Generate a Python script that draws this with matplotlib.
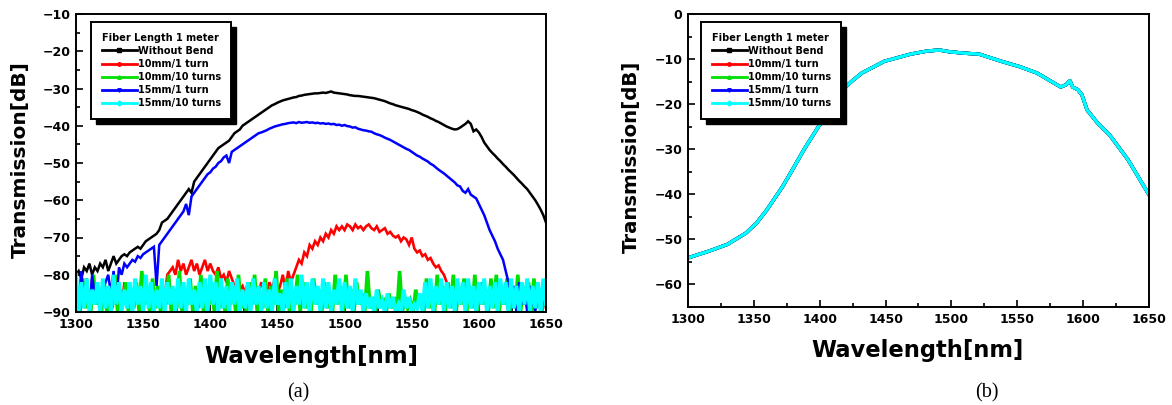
import numpy as np
import matplotlib
matplotlib.use("Agg")
import matplotlib.pyplot as plt
from matplotlib.lines import Line2D
from matplotlib.patches import Rectangle

# ---------------- data (a): bent fiber, 2 nm sampling ----------------
wl_a = np.arange(1300, 1651, 2)          # 176 wavelengths
wl_a_green = np.arange(1301, 1650, 2)    # 175 wavelengths

without_bend_a = [
    -80, -79, -81, -78, -79, -77, -80, -78, -79, -77,
    -78, -76, -79, -77, -75, -77, -76, -75, -74.5, -75,
    -74, -73.5, -73, -72.5, -73, -72, -71, -70.5, -70, -69.5,
    -69, -68, -66, -65.5, -65, -64, -63, -62, -61, -60,
    -59, -58, -57, -58, -55, -54, -53, -52, -51, -50,
    -49, -48, -47, -46, -45.5, -45, -44.5, -44, -43, -42,
    -41.5, -41, -40, -39.5, -39, -38.5, -38, -37.5, -37, -36.5,
    -36, -35.5, -35, -34.5, -34.2, -33.8, -33.5, -33.2, -33, -32.8,
    -32.6, -32.4, -32.3, -32, -31.9, -31.7, -31.6, -31.5, -31.4, -31.3,
    -31.3, -31.2, -31.1, -31.2, -31, -30.8, -31.1, -31.2, -31.3, -31.4,
    -31.5, -31.6, -31.8, -31.9, -32, -32, -32.1, -32.2, -32.3, -32.4,
    -32.5, -32.6, -32.8, -33, -33.2, -33.4, -33.7, -34, -34.2, -34.5,
    -34.7, -34.9, -35.1, -35.3, -35.5, -35.8, -36, -36.3, -36.6, -37,
    -37.3, -37.6, -38, -38.3, -38.7, -39, -39.4, -39.8, -40.2, -40.5,
    -40.8, -41, -40.9, -40.5, -40, -39.5, -38.8, -39.5, -41.5, -41,
    -41.8, -43, -44.5, -45.5, -46.5, -47.3, -48, -48.8, -49.5, -50.3,
    -51, -51.8, -52.5, -53.2, -54, -54.8, -55.5, -56.3, -57, -58,
    -59, -60, -61.2, -62.5, -64, -66,
]

mm10_1turn_a = [
    -81, -88, -80, -86, -82, -89, -81, -87, -83, -90,
    -82, -88, -84, -90, -81, -87, -83, -89, -82, -88,
    -84, -90, -82, -87, -83, -89, -85, -88, -82, -90,
    -84, -88, -83, -86, -80, -79, -78, -80, -76, -79,
    -77, -80, -78, -76, -79, -77, -80, -78, -76, -79,
    -77, -79, -80, -78, -81, -80, -82, -79, -81, -83,
    -82, -84, -83, -85, -82, -86, -84, -83, -85, -82,
    -84, -86, -82, -84, -81, -85, -83, -80, -84, -79,
    -82, -80, -78, -76, -77, -74, -75, -72, -73, -71,
    -72, -70, -71, -69, -70, -68, -69, -67, -68, -67,
    -68, -66.5, -67, -68, -66.5, -67.5, -67, -68, -67, -66.5,
    -67.5, -68, -67, -68.5, -68, -67.5, -69, -68.5, -69.5, -70,
    -69.5, -71, -70, -70.5, -72, -70, -73, -74, -73.5, -75,
    -74.5, -76, -75.5, -77, -78, -77.5, -79, -80, -82, -84,
    -83, -85, -86, -84, -87, -85, -88, -84, -86, -89,
    -85, -88, -84, -90, -86, -87, -85, -89, -84, -88,
    -86, -90, -84, -88, -85, -89, -86, -88, -84, -90,
    -85, -89, -84, -88, -86, -89,
]

mm10_10turns_a = [
    -84, -90, -81, -89, -85, -90, -80, -88, -86, -90,
    -82, -90, -85, -89, -80, -90, -84, -88, -82, -90,
    -85, -89, -82, -90, -79, -88, -85, -90, -81, -89,
    -83, -90, -86, -88, -80, -90, -84, -89, -79, -90,
    -85, -88, -81, -90, -83, -89, -80, -90, -84, -88,
    -82, -90, -79, -89, -85, -90, -81, -88, -84, -90,
    -80, -89, -85, -90, -82, -88, -80, -90, -85, -89,
    -81, -90, -83, -88, -79, -90, -84, -89, -81, -90,
    -85, -88, -80, -90, -82, -89, -86, -90, -81, -88,
    -84, -90, -82, -89, -85, -90, -80, -88, -83, -90,
    -80, -89, -84, -90, -82, -88, -85, -90, -79, -89,
    -86, -90, -84, -88, -87, -90, -85, -89, -86, -90,
    -79, -90, -86, -89, -87, -90, -84, -88, -86, -90,
    -81, -89, -84, -90, -80, -88, -83, -90, -82, -89,
    -80, -90, -84, -88, -81, -90, -83, -89, -80, -90,
    -82, -88, -84, -90, -81, -89, -80, -90, -85, -88,
    -81, -90, -83, -89, -80, -90, -84, -88, -82, -90,
    -81, -89, -84, -90, -82,
]

mm15_1turn_a = [
    -80, -90, -79, -88, -81, -90, -80, -86, -83, -85,
    -84, -82, -80, -85, -79, -88, -78, -80, -77, -78,
    -77, -76, -76.5, -75, -75.5, -74.5, -74, -73.5, -73, -72.5,
    -83, -72, -71, -70, -69, -68, -67, -66, -65, -64,
    -63, -61, -64, -59, -58, -57, -56, -55, -54, -53,
    -52.5, -51.5, -51, -50, -49.5, -48.5, -48, -50, -47, -46.5,
    -46, -45.5, -45, -44.5, -44, -43.5, -43, -42.5, -42, -41.8,
    -41.5, -41.2, -40.8, -40.5, -40.2, -40, -39.8, -39.6, -39.5, -39.3,
    -39.2, -39.1, -39.3, -39, -39.2, -39.1, -39, -39.2, -39.1, -39.3,
    -39.2, -39.4, -39.3, -39.5, -39.4, -39.6, -39.5, -39.8, -39.7, -40,
    -39.8, -40.1, -40.2, -40.5, -40.4, -40.8, -41, -41.2, -41.3, -41.5,
    -41.6, -42, -42.3, -42.5, -42.8, -43.2, -43.5, -43.8, -44.2, -44.6,
    -45, -45.4, -45.8, -46.2, -46.5, -47, -47.5, -48, -48.3, -48.8,
    -49.2, -49.6, -50.2, -50.6, -51.2, -51.8, -52.3, -52.8, -53.4, -54,
    -54.6, -55.2, -56, -56.3, -57.5, -58, -57, -58.5, -59, -59.5,
    -61, -62.5, -64, -66, -68, -69.5, -71, -73, -74.5, -76,
    -79, -82, -86, -83, -90, -82, -88, -84, -90, -83,
    -87, -90, -84, -90, -86, -82,
]

mm15_10turns_a = [
    -80, -90, -82, -89, -81, -90, -84, -88, -82, -90,
    -81, -89, -83, -90, -80, -88, -82, -90, -84, -89,
    -82, -90, -81, -88, -83, -90, -80, -89, -82, -90,
    -84, -89, -81, -90, -82, -88, -83, -90, -81, -89,
    -82, -90, -81, -88, -84, -90, -82, -89, -81, -90,
    -80, -88, -82, -90, -81, -89, -83, -90, -82, -88,
    -81, -90, -84, -89, -82, -90, -81, -88, -83, -90,
    -82, -89, -84, -90, -81, -88, -85, -90, -82, -89,
    -81, -90, -83, -88, -80, -89, -82, -90, -81, -88,
    -83, -90, -81, -89, -82, -90, -84, -88, -81, -90,
    -82, -89, -83, -90, -81, -88, -84, -90, -85, -89,
    -86, -90, -84, -89, -87, -90, -85, -89, -86, -90,
    -88, -90, -84, -89, -86, -90, -88, -89, -85, -90,
    -82, -89, -81, -90, -83, -88, -81, -90, -82, -89,
    -83, -90, -81, -88, -82, -90, -81, -89, -83, -90,
    -82, -88, -81, -90, -83, -89, -82, -90, -81, -88,
    -82, -90, -81, -89, -83, -90, -82, -88, -81, -90,
    -83, -89, -82, -90, -81, -88,
]

# ---------------- data (b): straight fiber, all five traces overlap ----------------
wl_b = [1300, 1316, 1330, 1344, 1352, 1360, 1372, 1380, 1388, 1399, 1410, 1417,
        1424, 1432, 1449, 1469, 1482, 1491, 1499, 1510, 1521, 1538, 1552, 1565,
        1576, 1583, 1587, 1590, 1592, 1596, 1599, 1603, 1611, 1620, 1634, 1650]
trans_b = [-54.1, -52.6, -51.1, -48.6, -46.4, -43.4, -38.2, -34.2, -30.1, -25.0, -20.5, -17.0,
           -15.0, -13.1, -10.5, -8.9, -8.2, -8.0, -8.4, -8.7, -8.9, -10.5, -11.7, -13.1,
           -15.0, -16.2, -15.7, -14.8, -16.2, -16.8, -17.9, -21.3, -24.2, -26.8, -32.3, -40.1]

labels = ["Without Bend", "10mm/1 turn", "10mm/10 turns", "15mm/1 turn", "15mm/10 turns"]
colors = ["#000000", "#ff0000", "#00e000", "#0000ff", "#00ffff"]
markers = ["s", "o", "^", "v", "D"]
legend_title = "Fiber Length 1 meter"

# ---------------- figure ----------------
W, H = 1172, 405
fig = plt.figure(figsize=(W / 100, H / 100), dpi=100)
fig.patch.set_facecolor("white")

def fx(px):
    return px / W

def fy(py):
    return 1 - py / H

axA = fig.add_axes([fx(76), fy(312), fx(546) - fx(76), fy(14) - fy(312)])
axB = fig.add_axes([fx(688), fy(307), fx(1149) - fx(688), fy(14) - fy(307)])

tickfont = dict(family="DejaVu Sans", weight="bold", size=9)

def style(ax, ylim, yticks):
    ax.set_xlim(1300, 1650)
    ax.set_ylim(*ylim)
    ax.set_xticks(np.arange(1300, 1651, 50))
    ax.set_xticks(np.arange(1325, 1650, 50), minor=True)
    ax.set_yticks(yticks)
    ax.set_yticks(np.array(yticks[:-1]) + 5, minor=True)
    ax.tick_params(which="both", direction="in", top=False, right=False, width=1.2, color="black")
    ax.tick_params(which="major", length=5, pad=4)
    ax.tick_params(which="minor", length=3)
    for lab in ax.get_xticklabels() + ax.get_yticklabels():
        lab.set_fontfamily(tickfont["family"])
        lab.set_fontweight(tickfont["weight"])
        lab.set_fontsize(tickfont["size"])
    for sp in ax.spines.values():
        sp.set_linewidth(1.4)
        sp.set_color("black")
        sp.set_zorder(5)

series_a = [(wl_a, without_bend_a), (wl_a, mm10_1turn_a), (wl_a_green, mm10_10turns_a),
            (wl_a, mm15_1turn_a), (wl_a, mm15_10turns_a)]
widths_a = [1.8, 1.9, 2.6, 1.8, 2.8]
for (x, y), c, lw in zip(series_a, colors, widths_a):
    axA.plot(x, y, color=c, lw=lw, solid_joinstyle="miter")
style(axA, (-90, -10), list(range(-90, -9, 10)))

for c in colors:
    axB.plot(wl_b, trans_b, color=c, lw=2.4)
style(axB, (-65, 0), list(range(-60, 1, 10)))

def add_legend(ax, x0, y0):
    handles = [Line2D([], [], color=c, lw=2, marker=m, markersize=2.5) for c, m in zip(colors, markers)]
    leg = ax.legend(handles, labels, title=legend_title, loc="upper left",
                    bbox_to_anchor=(x0, y0), frameon=True, fancybox=False,
                    prop=dict(family="DejaVu Sans", weight="bold", size=7),
                    title_fontproperties=dict(family="DejaVu Sans", weight="bold", size=7),
                    handlelength=3.6, handletextpad=0.1, labelspacing=0.32,
                    borderpad=1.1, borderaxespad=0, alignment="left")
    leg.get_frame().set_edgecolor("black")
    leg.get_frame().set_linewidth(1.4)
    leg.get_frame().set_facecolor("white")
    leg.get_frame().set_alpha(1)
    leg.set_zorder(10)
    return leg

legA = add_legend(axA, (91 - 76) / 470, (312 - 22) / 298)
legB = add_legend(axB, (701 - 688) / 461, (307 - 22) / 293)

fig.canvas.draw()
for ax, leg in ((axA, legA), (axB, legB)):
    bb = leg.get_window_extent()
    off = 5
    inv = fig.transFigure.inverted()
    (x0, y0) = inv.transform((bb.x0 + off, bb.y0 - off))
    (x1, y1) = inv.transform((bb.x1 + off, bb.y1 - off))
    fig.patches.append(Rectangle((x0, y0), x1 - x0, y1 - y0, transform=fig.transFigure,
                                 facecolor="black", edgecolor="black", zorder=9))
    leg.remove()
    fig.legends.append(leg)
    leg.set_figure(fig)

labfont = dict(family="DejaVu Sans", weight="bold")
fig.text(fx(20), fy(160), "Transmission[dB]", rotation=90, ha="center", va="center", size=14.5, **labfont)
fig.text(fx(631), fy(157), "Transmission[dB]", rotation=90, ha="center", va="center", size=14.2, **labfont)
fig.text(fx(311), fy(356), "Wavelength[nm]", ha="center", va="center", size=16.5, **labfont)
fig.text(fx(918), fy(350), "Wavelength[nm]", ha="center", va="center", size=16.3, **labfont)
fig.text(fx(298), fy(393), "(a)", ha="center", va="center", size=14.5, family="Liberation Serif")
fig.text(fx(987), fy(393), "(b)", ha="center", va="center", size=14.5, family="Liberation Serif")

fig.savefig("out.png", dpi=100, facecolor="white")
